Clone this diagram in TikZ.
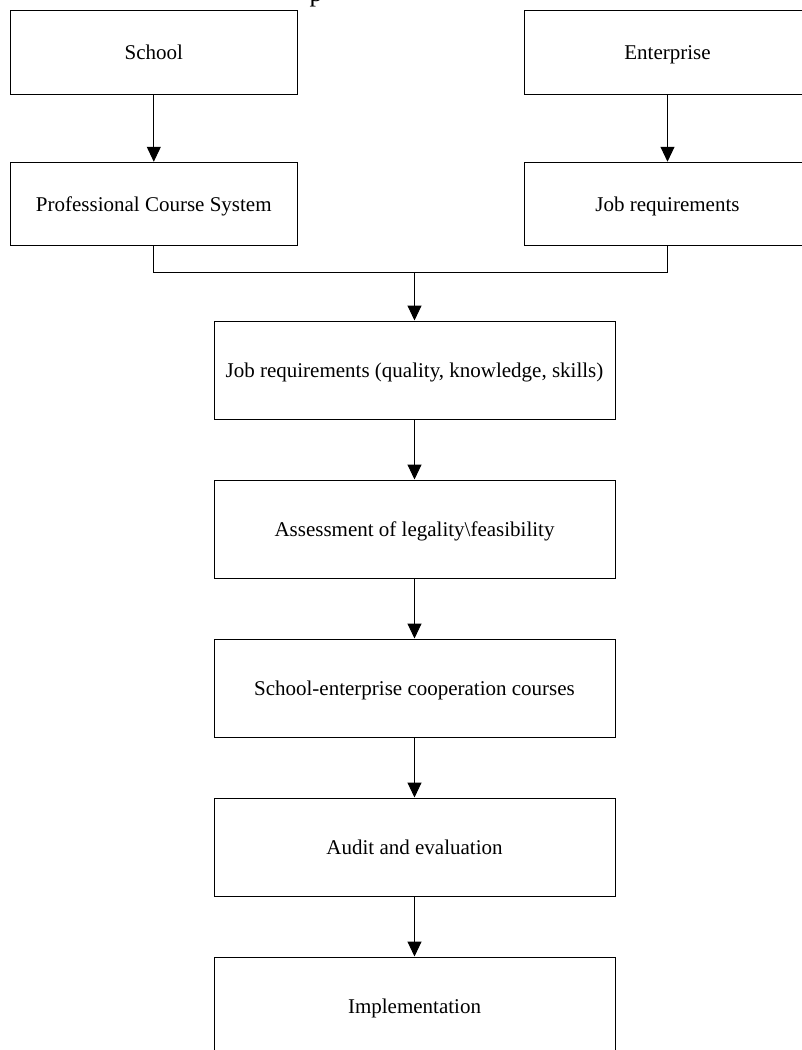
\documentclass[tikz,border=0pt]{standalone}
\usepackage{fontspec}
\setmainfont{Liberation Serif}
\usetikzlibrary{arrows.meta}
\begin{document}
\begin{tikzpicture}[x=1pt,y=-1pt,
  every node/.style={font=\fontsize{21}{25}\selectfont},
  stepbox/.style={draw=black, line width=1pt, rectangle, inner sep=0pt,
    text height=14pt, text depth=0pt},
  topbox/.style={stepbox, minimum width=287pt, minimum height=83.5pt},
  flowbox/.style={stepbox, minimum width=401pt, minimum height=98pt},
  link/.style={draw=black, line width=1pt},
  arrowlink/.style={link, -{Triangle[length=15pt,width=14pt]}}
]
\useasboundingbox (0,0) rectangle (802,1050);

% remnant of the heading above the chart
\node[anchor=base west, inner sep=0pt, font=\fontsize{26}{30}\selectfont] (head) at (309.5,1.5) {p};

% two source columns
\node[topbox] (school) at (153.8,52.3) {School};
\node[topbox] (pcs) at (153.8,204) {Professional Course System};
\node[topbox] (ent) at (667.5,52.3) {Enterprise};
\node[topbox] (job) at (667.5,204) {Job requirements};

% main sequence
\node[flowbox] (jobq) at (414.5,370) {Job requirements (quality, knowledge, skills)};
\node[flowbox] (assess) at (414.5,529) {Assessment of legality\textbackslash feasibility};
\node[flowbox] (coop) at (414.5,688) {School-enterprise cooperation courses};
\node[flowbox] (audit) at (414.5,847) {Audit and evaluation};
\node[flowbox] (impl) at (414.5,1006) {Implementation};

\coordinate (join) at (414.5,272.5);

\draw[arrowlink] (school.south) -- (pcs.north);
\draw[arrowlink] (ent.south) -- (job.north);
\draw[link] (pcs.south) |- (join) -| (job.south);
\draw[arrowlink] (join) -- (jobq.north);
\draw[arrowlink] (jobq.south) -- (assess.north);
\draw[arrowlink] (assess.south) -- (coop.north);
\draw[arrowlink] (coop.south) -- (audit.north);
\draw[arrowlink] (audit.south) -- (impl.north);
\end{tikzpicture}
\end{document}
